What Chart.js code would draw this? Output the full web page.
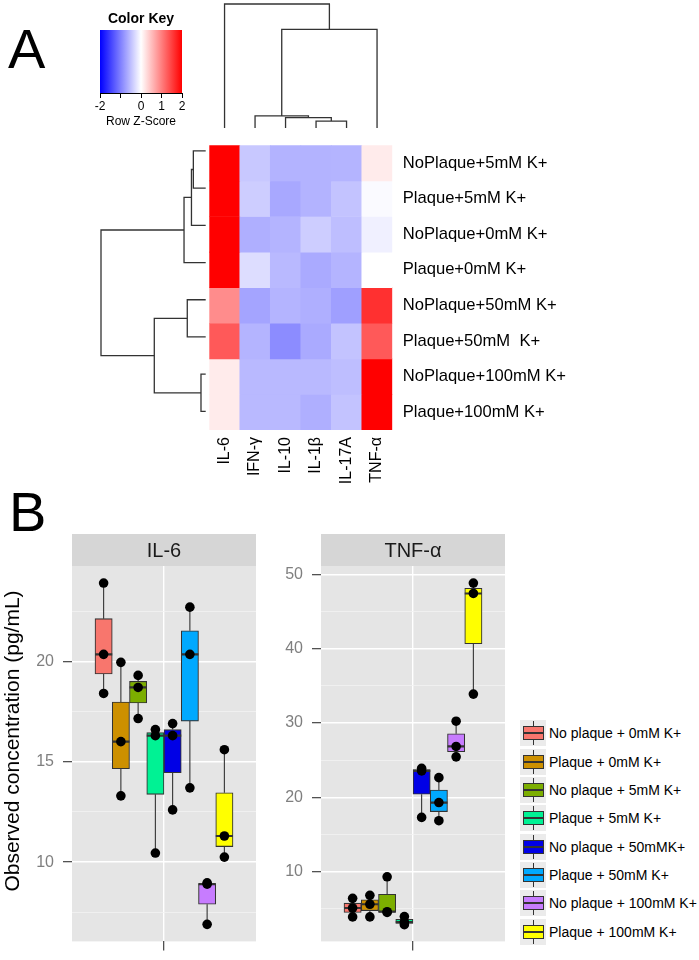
<!DOCTYPE html>
<html><head><meta charset="utf-8">
<script src="https://cdn.jsdelivr.net/npm/chart.js@4.4.1/dist/chart.umd.min.js"></script>
<style>
html,body{margin:0;padding:0;background:#fff;}
body{width:699px;height:960px;position:relative;overflow:hidden;font-family:"Liberation Sans",Arial,Helvetica,sans-serif;}
canvas{position:absolute;}
.big{position:absolute;font-size:56px;line-height:56px;color:#000;}
#ytitle{position:absolute;left:-188px;top:729px;width:400px;height:24px;line-height:24px;font-size:21px;text-align:center;transform:rotate(-90deg);color:#000;white-space:nowrap;}
.leg{position:absolute;left:520px;height:26px;width:179px;}
.key{position:absolute;left:0;top:0;width:26px;height:26px;background:#EBEBEB;}
.wh{position:absolute;left:12.5px;top:1px;width:1px;height:24px;background:#333;}
.bx{position:absolute;left:2.5px;top:6px;width:19px;height:12px;border:1px solid #333;}
.md{position:absolute;left:2.5px;top:12px;width:21px;height:2px;background:#333;}
.lt{position:absolute;left:29px;top:0;height:26px;line-height:26px;font-size:14px;white-space:nowrap;color:#000;}
</style></head><body>
<div class="big" style="left:8px;top:20.6px">A</div>
<div class="big" style="left:9px;top:484.3px">B</div>
<canvas id="key" width="110" height="135" style="left:90px;top:0px;width:110px;height:135px"></canvas>
<canvas id="coldend" width="200" height="135" style="left:200px;top:0px;width:200px;height:135px"></canvas>
<canvas id="rowdend" width="125" height="310" style="left:90px;top:125px;width:125px;height:310px"></canvas>
<canvas id="heat" width="499" height="375" style="left:200px;top:125px;width:499px;height:375px"></canvas>
<canvas id="il6" width="262" height="430" style="left:0px;top:530px;width:262px;height:430px"></canvas>
<canvas id="tnf" width="262" height="430" style="left:249px;top:530px;width:262px;height:430px"></canvas>
<div id="ytitle">Observed concentration (pg/mL)</div>
<div id="legend"></div>
<script>
// ---------------- DATA ----------------
// Panel A: heatmap
const cytokines = ['IL-6', 'IFN-γ', 'IL-10', 'IL-1β', 'IL-17A', 'TNF-α'];
const heatRows = ['NoPlaque+5mM K+', 'Plaque+5mM K+', 'NoPlaque+0mM K+', 'Plaque+0mM K+',
                  'NoPlaque+50mM K+', 'Plaque+50mM  K+', 'NoPlaque+100mM K+', 'Plaque+100mM K+'];
const z_NoPlaque5   = [2.0, -0.43, -0.60, -0.60, -0.59,  0.16];
const z_Plaque5     = [2.0, -0.39, -0.68, -0.60, -0.47, -0.04];
const z_NoPlaque0   = [2.0, -0.63, -0.59, -0.39, -0.51, -0.12];
const z_Plaque0     = [2.0, -0.27, -0.55, -0.67, -0.59,  0.00];
const z_NoPlaque50  = [0.90, -0.71, -0.59, -0.63, -0.75, 1.62];
const z_Plaque50    = [1.30, -0.59, -0.90, -0.67, -0.47, 1.30];
const z_NoPlaque100 = [0.16, -0.55, -0.55, -0.55, -0.51, 2.0];
const z_Plaque100   = [0.16, -0.55, -0.55, -0.63, -0.47, 2.0];
const zRows = [z_NoPlaque5, z_Plaque5, z_NoPlaque0, z_Plaque0, z_NoPlaque50, z_Plaque50, z_NoPlaque100, z_Plaque100];
// dendrograms (hclust-style merges; negative = leaf in display order)
const colMerge  = [[-4, -5], [-3, 1], [-2, 2], [3, -6], [-1, 4]];
const colHeight = [0.56, 0.83, 0.97, 7.96, 10.0];
const rowMerge  = [[-7, -8], [-1, -2], [2, -3], [-5, -6], [3, -4], [4, 1], [5, 6]];
const rowHeight = [0.45, 1.18, 1.36, 1.76, 2.07, 4.91, 10.0];
// colour key
const keyTicks = [-2, -1, 0, 1, 2];
const keyTickLabels = ['-2', '', '0', '1', '2'];

// Panel B: boxplots
const groups = ['No plaque + 0mM K+', 'Plaque + 0mM K+', 'No plaque + 5mM K+', 'Plaque + 5mM K+',
                'No plaque + 50mMK+', 'Plaque + 50mM K+', 'No plaque + 100mM K+', 'Plaque + 100mM K+'];
const groupColors = ['#F8766D', '#CD9000', '#7CAE00', '#00F294', '#0000E6', '#00A9FF', '#C77CFF', '#FFFF00'];
const il6_NoPlaque0   = [18.4, 20.35, 23.9];
const il6_Plaque0     = [13.3, 16.0, 19.95];
const il6_NoPlaque5   = [17.15, 18.7, 19.3];
const il6_Plaque5     = [10.45, 16.3, 16.6];
const il6_NoPlaque50  = [12.6, 16.3, 16.9];
const il6_Plaque50    = [13.7, 20.35, 22.7];
const il6_NoPlaque100 = [6.9, 8.9, 8.97];
const il6_Plaque100   = [10.25, 11.3, 15.6];
const tnf_NoPlaque0   = [3.9, 5.1, 6.4];
const tnf_Plaque0     = [3.9, 5.6, 6.8];
const tnf_NoPlaque5   = [4.5, 4.6, 9.3];
const tnf_Plaque5     = [2.85, 3.2, 3.95];
const tnf_NoPlaque50  = [17.3, 23.55, 23.9];
const tnf_Plaque50    = [16.85, 19.3, 22.65];
const tnf_NoPlaque100 = [25.45, 26.85, 30.25];
const tnf_Plaque100   = [33.9, 47.45, 48.85];
const il6Values = [il6_NoPlaque0, il6_Plaque0, il6_NoPlaque5, il6_Plaque5, il6_NoPlaque50, il6_Plaque50, il6_NoPlaque100, il6_Plaque100];
const tnfValues = [tnf_NoPlaque0, tnf_Plaque0, tnf_NoPlaque5, tnf_Plaque5, tnf_NoPlaque50, tnf_Plaque50, tnf_NoPlaque100, tnf_Plaque100];
const il6MajorTicks = [10, 15, 20];
const il6MinorTicks = [7.5, 12.5, 17.5, 22.5];
const il6Range = [6.05, 24.75];
const tnfMajorTicks = [10, 20, 30, 40, 50];
const tnfMinorTicks = [5, 15, 25, 35, 45];
const tnfRange = [0.6, 51.15];

// ---------------- SETUP ----------------
const FONT = '"Liberation Sans", Arial, Helvetica, sans-serif';
Chart.defaults.font.family = FONT;
Chart.defaults.animation = false;
Chart.defaults.responsive = false;
Chart.defaults.devicePixelRatio = 1;
Chart.defaults.events = [];
Chart.defaults.plugins.legend.display = false;
Chart.defaults.plugins.tooltip.enabled = false;

function zColor(z) {
  const t = Math.max(-1, Math.min(1, z / 2));
  if (t < 0) { const v = Math.round(255 * (1 + t)); return `rgb(${v},${v},255)`; }
  const v = Math.round(255 * (1 - t)); return `rgb(255,${v},${v})`;
}

// ---------------- COLOUR KEY ----------------
const gradientPlugin = {
  id: 'gradientFill',
  beforeDraw(chart) {
    const {ctx, chartArea: a} = chart;
    const g = ctx.createLinearGradient(a.left, 0, a.right, 0);
    g.addColorStop(0, zColor(-2)); g.addColorStop(0.5, zColor(0)); g.addColorStop(1, zColor(2));
    ctx.save(); ctx.fillStyle = g; ctx.fillRect(a.left, a.top, a.right - a.left, a.bottom - a.top); ctx.restore();
  }
};
new Chart(document.getElementById('key'), {
  type: 'scatter',
  data: {datasets: [{data: []}]},
  options: {
    layout: {padding: {left: 10, right: 18, top: 0, bottom: 0}},
    plugins: {title: {display: true, text: 'Color Key', color: '#000', font: {size: 14, weight: 'bold'}, padding: {top: 11, bottom: 2.2}}},
    scales: {
      x: {type: 'linear', min: -2, max: 2,
          afterBuildTicks: s => { s.ticks = keyTicks.map(v => ({value: v})); },
          afterFit: s => { s.height = 42; },
          ticks: {callback: (v, i) => keyTickLabels[i], color: '#000', font: {size: 12}, padding: 1, maxRotation: 0},
          grid: {drawOnChartArea: false, tickLength: 5, tickColor: '#000', lineWidth: 1},
          border: {display: true, color: '#000', width: 1},
          title: {display: true, text: 'Row Z-Score', color: '#000', font: {size: 12}, padding: {top: 0, bottom: 5.8}}},
      y: {display: false, min: 0, max: 1}
    }
  },
  plugins: [gradientPlugin]
});

// ---------------- DENDROGRAMS ----------------
function dendroSegments(merge, heights) {
  const pos = [], hgt = [];
  const node = idx => idx < 0 ? {p: -idx - 0.5, h: 0} : {p: pos[idx - 1], h: hgt[idx - 1]};
  const segs = [];
  merge.forEach((m, k) => {
    const a = node(m[0]), b = node(m[1]);
    const h = heights[k];
    pos[k] = (a.p + b.p) / 2; hgt[k] = h;
    segs.push([[a.p, a.h], [a.p, h], [b.p, h], [b.p, b.h]]);
  });
  return segs;
}
const lineStyle = {borderColor: '#333333', borderWidth: 1.3, pointRadius: 0, showLine: true, fill: false, tension: 0, clip: false};

new Chart(document.getElementById('coldend'), {
  type: 'scatter',
  data: {datasets: dendroSegments(colMerge, colHeight).map(s => ({
    ...lineStyle, data: s.map(([p, h]) => ({x: p, y: h}))}))},
  options: {
    layout: {padding: {left: 9.3, right: 7.7, top: 4, bottom: 7}},
    scales: {x: {display: false, type: 'linear', min: 0, max: cytokines.length},
             y: {display: false, type: 'linear', min: 0, max: Math.max(...colHeight)}}
  }
});

new Chart(document.getElementById('rowdend'), {
  type: 'scatter',
  data: {datasets: dendroSegments(rowMerge, rowHeight).map(s => ({
    ...lineStyle, data: s.map(([p, h]) => ({x: h, y: p}))}))},
  options: {
    layout: {padding: {left: 11, right: 9.3, top: 7.3, bottom: 5}},
    scales: {x: {display: false, type: 'linear', min: 0, max: Math.max(...rowHeight), reverse: true},
             y: {display: false, type: 'linear', min: 0, max: heatRows.length, reverse: true}}
  }
});

// ---------------- HEATMAP ----------------
new Chart(document.getElementById('heat'), {
  type: 'bar',
  data: {
    labels: cytokines,
    datasets: zRows.map((row, r) => ({
      data: row.map(() => [r, r + 1]),
      backgroundColor: row.map(zColor),
      borderWidth: 0, borderSkipped: false,
      barPercentage: 1, categoryPercentage: 1, grouped: false
    }))
  },
  options: {
    layout: {padding: {left: 9.3, top: 7.3, right: 0, bottom: 0}},
    scales: {
      x: {type: 'category', offset: true,
          afterFit: s => { s.height = 70; },
          grid: {display: false, drawTicks: false, tickLength: 0}, border: {display: false},
          ticks: {minRotation: 90, maxRotation: 90, autoSkip: false, padding: 7, color: '#000', font: {size: 16}}},
      y: {type: 'linear', position: 'right', min: 0, max: heatRows.length, reverse: true,
          afterBuildTicks: s => { s.ticks = heatRows.map((_, i) => ({value: i + 0.5})); },
          afterFit: s => { s.width = 306.7; },
          grid: {display: false, drawTicks: false, tickLength: 0}, border: {display: false},
          ticks: {autoSkip: false, padding: 10.4, color: '#000', font: {size: 16.6}, callback: (v, i) => heatRows[i]}}
    }
  }
});

// ---------------- BOXPLOTS ----------------
function quantile(s, p) {
  const h = (s.length - 1) * p, lo = Math.floor(h), hi = Math.ceil(h);
  return s[lo] + (h - lo) * (s[hi] - s[lo]);
}
function boxStats(vals) {
  const s = [...vals].sort((a, b) => a - b);
  const q1 = quantile(s, 0.25), med = quantile(s, 0.5), q3 = quantile(s, 0.75), iqr = q3 - q1;
  return {q1, med, q3,
          lo: Math.min(...s.filter(v => v >= q1 - 1.5 * iqr)),
          hi: Math.max(...s.filter(v => v <= q3 + 1.5 * iqr))};
}
const PANEL_BG = '#E5E5E5', STRIP_BG = '#D6D6D6';
const stripPlugin = {
  id: 'strip',
  beforeDraw(chart, args, opts) {
    const {ctx, chartArea: a} = chart;
    ctx.save();
    ctx.fillStyle = PANEL_BG; ctx.fillRect(a.left, a.top, a.right - a.left, a.bottom - a.top);
    ctx.fillStyle = STRIP_BG; ctx.fillRect(a.left, a.top - 32, a.right - a.left, 32);
    ctx.fillStyle = '#1a1a1a'; ctx.font = '20px ' + FONT; ctx.textAlign = 'center'; ctx.textBaseline = 'middle';
    ctx.fillText(opts.text, (a.left + a.right) / 2, a.top - 15);
    ctx.restore();
  }
};
function boxChart(id, title, values, major, minor, range) {
  const dodge = 0.9, n = groups.length, w = dodge / n;
  const xs = groups.map((g, i) => 1 - dodge / 2 + w * (i + 0.5));
  const st = values.map(boxStats);
  const whiskers = [], medians = [], points = [];
  st.forEach((s, i) => {
    whiskers.push({x: xs[i], y: s.lo}, {x: xs[i], y: s.q1}, {x: xs[i], y: null},
                  {x: xs[i], y: s.q3}, {x: xs[i], y: s.hi}, {x: xs[i], y: null});
    medians.push({x: xs[i] - w / 2, y: s.med}, {x: xs[i] + w / 2, y: s.med}, {x: xs[i], y: null});
    values[i].forEach(v => points.push({x: xs[i], y: v}));
  });
  const isMajor = v => major.includes(v);
  new Chart(document.getElementById(id), {
    type: 'bar',
    data: {datasets: [
      {type: 'line', data: whiskers, borderColor: '#333', borderWidth: 1.1, pointRadius: 0, spanGaps: false, order: 4},
      {type: 'bar', data: xs.map((x, i) => ({x, y: [st[i].q1, st[i].q3]})), backgroundColor: groupColors,
       borderColor: '#333', borderWidth: 1.1, borderSkipped: false, barPercentage: 1, categoryPercentage: 1, order: 3},
      {type: 'line', data: medians, borderColor: '#333', borderWidth: 2.2, pointRadius: 0, spanGaps: false, order: 2},
      {type: 'scatter', data: points, pointRadius: 4.8, backgroundColor: '#000', borderWidth: 0, order: 1}
    ]},
    options: {
      layout: {padding: {left: 0, right: 6, top: 36, bottom: 0}},
      plugins: {strip: {text: title}},
      scales: {
        x: {type: 'linear', min: 0.4, max: 1.6, offset: false,
            afterBuildTicks: s => { s.ticks = [{value: 1}]; },
            afterFit: s => { s.height = 12; },
            ticks: {display: false},
            grid: {offset: false, color: '#FFFFFF', lineWidth: 1.4, tickLength: 9, tickColor: '#333', tickWidth: 1.1},
            border: {display: false}},
        y: {type: 'linear', min: range[0], max: range[1],
            afterBuildTicks: s => { s.ticks = [...major, ...minor].sort((a, b) => a - b).map(v => ({value: v})); },
            afterFit: s => { s.width = 72; },
            ticks: {color: '#7F7F7F', font: {size: 16}, padding: 9, autoSkip: false,
                    callback: v => isMajor(v) ? String(v) : ''},
            grid: {color: c => isMajor(c.tick.value) ? '#FFFFFF' : '#F2F2F2',
                   lineWidth: c => isMajor(c.tick.value) ? 1.4 : 0.8,
                   tickColor: c => isMajor(c.tick.value) ? '#333' : 'rgba(0,0,0,0)',
                   tickWidth: 1.1, tickLength: 9},
            border: {display: false}}
      }
    },
    plugins: [stripPlugin]
  });
}
boxChart('il6', 'IL-6', il6Values, il6MajorTicks, il6MinorTicks, il6Range);
boxChart('tnf', 'TNF-α', tnfValues, tnfMajorTicks, tnfMinorTicks, tnfRange);

// ---------------- LEGEND ----------------
const leg = document.getElementById('legend');
groups.forEach((g, i) => {
  const d = document.createElement('div');
  d.className = 'leg';
  d.style.top = (720.3 + i * 28.33) + 'px';
  d.innerHTML = `<div class="key"><div class="wh"></div><div class="bx" style="background:${groupColors[i]}"></div><div class="md"></div></div><div class="lt"></div>`;
  d.querySelector('.lt').textContent = g;
  leg.appendChild(d);
});
</script>
</body></html>
